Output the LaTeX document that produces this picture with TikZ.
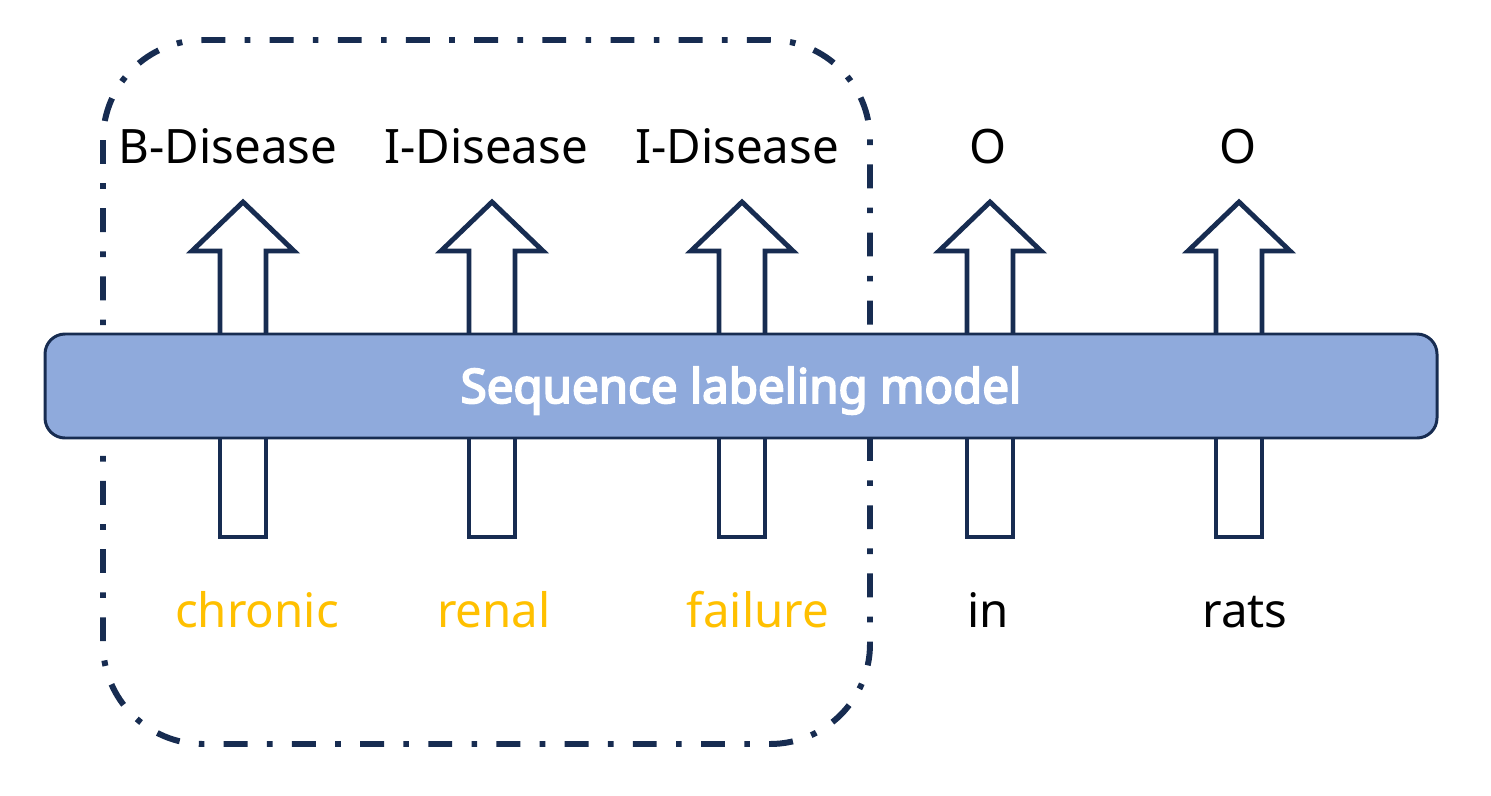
\documentclass[tikz,border=0pt]{standalone}
\usepackage{fontspec}
\setmainfont{Noto Sans}
\newfontfamily\barfont{Noto Sans}[FakeBold=4]
\usetikzlibrary{positioning}

\definecolor{navy}{HTML}{172C51}
\definecolor{barblue}{HTML}{8FAADC}
\definecolor{wordgold}{HTML}{FFC000}

\begin{document}
\begin{tikzpicture}[x=0.1mm, y=-0.1mm,
	tag/.style = {anchor=base, font=\fontsize{13.5}{16}\selectfont, text=black},
	word/.style = {anchor=base, font=\fontsize{13.5}{16}\selectfont, text=black},
	entity/.style = {word, text=wordgold},
	blockarrow/.style = {draw=navy, line width=1.4pt, fill=white, line join=miter},
	modelbar/.style = {draw=navy, line width=0.85pt, fill=barblue, rounded corners=2mm,
		minimum width=139.2mm, minimum height=10.4mm, text=white,
		text height=3.8mm, text depth=0.4mm,
		font=\barfont\fontsize{13.5}{16}\selectfont},
	spanbox/.style = {draw=navy, line width=1.7pt, rounded corners=10mm,
		dash pattern=on 6.8pt off 5.5pt on 1.6pt off 5.5pt}]
		\useasboundingbox (0,0) rectangle (1491,796);
		% entity span
		\draw[spanbox] (103,40) rectangle (870,744);
		% block arrows, split by the model bar
		\foreach \x [count=\i] in {243,492,742,990,1239} {
			\coordinate (up\i) at (\x,333);
			\coordinate (dn\i) at (\x,439);
			\draw[blockarrow] ([xshift=-2.3mm]up\i) -- ++(0,-82) -- ++(-28,0) -- ++(51,-49)
				-- ++(51,49) -- ++(-28,0) -- ++(0,82);
			\draw[blockarrow] ([xshift=-2.3mm]dn\i) -- ++(0,98) -- ++(46,0) -- ++(0,-98);
		}
		\node[modelbar] (model) at (741,386) {Sequence labeling model};
		% output tags
		\node[tag] (t1) at (228,163) {B-Disease};
		\node[tag] (t2) at (486,163) {I-Disease};
		\node[tag] (t3) at (737,163) {I-Disease};
		\node[tag] (t4) at (988,163) {O};
		\node[tag] (t5) at (1238,163) {O};
		% input words
		\node[entity] (w1) at (257,627) {chronic};
		\node[entity] (w2) at (494,627) {renal};
		\node[entity] (w3) at (758,627) {failure};
		\node[word] (w4) at (988,627) {in};
		\node[word] (w5) at (1245,627) {rats};
	\end{tikzpicture}
\end{document}
